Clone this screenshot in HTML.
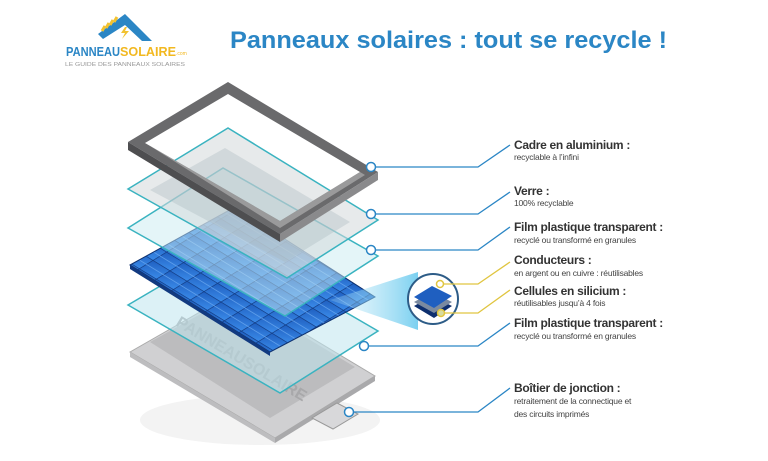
<!DOCTYPE html>
<html><head><meta charset="utf-8"><style>
html,body{margin:0;padding:0;background:#fff;width:768px;height:461px;overflow:hidden}
svg{display:block}
.t{font-family:"Liberation Sans",sans-serif;font-weight:bold;font-size:12px;fill:#333;letter-spacing:-0.3px}
.s{font-family:"Liberation Sans",sans-serif;font-size:8.5px;fill:#444;letter-spacing:-0.2px}
</style></head><body>
<svg width="768" height="461" viewBox="0 0 768 461" xmlns="http://www.w3.org/2000/svg">
<defs>
<linearGradient id="cell" x1="0" y1="0" x2="1" y2="1"><stop offset="0" stop-color="#1f5fc0"/><stop offset="1" stop-color="#3a8ae8"/></linearGradient>
<linearGradient id="beam" x1="0" y1="0" x2="1" y2="0"><stop offset="0" stop-color="#bfe8f7" stop-opacity="0.2"/><stop offset="1" stop-color="#6ccbef" stop-opacity="0.9"/></linearGradient>
<pattern id="grid" width="20" height="16" patternUnits="userSpaceOnUse" patternTransform="matrix(0.85,0.52,-0.85,0.52,0,0)">
<rect width="20" height="16" fill="url(#cell)"/><path d="M0 0H20M0 0V16" stroke="#123a80" stroke-width="1.5"/><path d="M0 8H20" stroke="#6aa8f0" stroke-width="0.7"/></pattern>
</defs>
<!-- logo -->
<path d="M98 34 L125 14 L152 41 L142 41 L125 25 L103 39Z" fill="#2b86c5"/>
<g stroke="#f2c230" stroke-width="3"><line x1="102" y1="31" x2="105" y2="26"/><line x1="106" y1="28" x2="109" y2="23"/><line x1="110" y1="25" x2="113" y2="20"/><line x1="114" y1="22" x2="117" y2="17"/></g>
<path d="M125 27 L121 33 L125 33 L122 39 L129 31 L125 31 L127 27Z" fill="#f2c230"/>
<text x="66" y="56" font-family="Liberation Sans,sans-serif" font-weight="bold" font-size="13" fill="#2b86c5" textLength="54" lengthAdjust="spacingAndGlyphs">PANNEAU</text>
<text x="120" y="56" font-family="Liberation Sans,sans-serif" font-weight="bold" font-size="13" fill="#f2b820" textLength="56" lengthAdjust="spacingAndGlyphs">SOLAIRE</text>
<text x="176" y="55" font-family="Liberation Sans,sans-serif" font-size="5" fill="#f2b820">.com</text>
<text x="65" y="66" font-family="Liberation Sans,sans-serif" font-size="5.5" fill="#999" textLength="120" lengthAdjust="spacingAndGlyphs">LE GUIDE DES PANNEAUX SOLAIRES</text>
<!-- title -->
<text x="230" y="48" font-family="Liberation Sans,sans-serif" font-weight="bold" font-size="24" fill="#2b86c5" textLength="437" lengthAdjust="spacingAndGlyphs">Panneaux solaires : tout se recycle !</text>

<!-- shadow -->
<ellipse cx="260" cy="420" rx="120" ry="25" fill="#f3f3f3"/>
<!-- back sheet -->
<polygon points="130,352 235,292 375,376 275,438" fill="#d0d0d2" stroke="#aaa"/>
<polygon points="130,352 275,438 275,443 130,357" fill="#bdbdbf"/>
<polygon points="275,438 375,376 375,381 275,443" fill="#a9a9ab"/>
<polygon points="150,342 235,295 355,367 270,418" fill="#bcbcbe"/>
<text x="175" y="325" transform="rotate(31 175 325)" font-family="Liberation Sans,sans-serif" font-weight="bold" font-size="16" fill="#a8a8aa">PANNEAUSOLAIRE</text>
<!-- junction box -->
<polygon points="312,418 337,403 358,414 333,429" fill="#d8d8da" stroke="#999"/>
<!-- glass 3 -->
<polygon points="128,305 230,245 378,331 280,393" fill="#bfe6ee" fill-opacity="0.55" stroke="#3ab3c0" stroke-width="1.5"/>
<!-- cells -->
<polygon points="130,265 235,207 375,297 270,352" fill="url(#grid)" stroke="#0f3270"/>
<polygon points="130,265 270,352 270,356 130,269" fill="#123a80"/>
<!-- beam -->
<polygon points="330,300 418,272 418,330" fill="url(#beam)"/>
<!-- glass 2 -->
<polygon points="128,228 223,168 378,256 285,316" fill="#c9ebf2" fill-opacity="0.5" stroke="#3ab3c0" stroke-width="1.5"/>
<!-- glass 1 -->
<polygon points="128,189 228,128 378,220 287,278" fill="#d4d8da" fill-opacity="0.55" stroke="#3ab3c0" stroke-width="1.5"/>
<polygon points="150,190 225,148 350,222 285,262" fill="#a8b8bd" fill-opacity="0.35"/>
<!-- frame -->
<path d="M128,142 L228,82 L378,172 L280,234Z M145,143 L228,94 L360,172 L280,221Z" fill="#6a6a6c" fill-rule="evenodd"/>
<polygon points="128,142 280,234 280,242 128,150" fill="#4e4e50"/>
<polygon points="280,234 378,172 378,180 280,242" fill="#8a8a8c"/>
<polygon points="145,143 280,221 360,172 365,175 280,228 150,146" fill="#bbb" opacity="0.6"/>

<!-- zoom circle -->
<circle cx="433" cy="299" r="25" fill="#fff" stroke="#2d5c87" stroke-width="2"/>
<polygon points="414,306 432,296 452,306 434,318" fill="#0e2f6e"/>
<polygon points="414,302 432,292 452,302 434,313" fill="#7a8aa0"/>
<polygon points="414,297 432,286 452,296 434,308" fill="#1f5fc0"/>

<!-- connectors -->
<g fill="none" stroke-width="1.3">
<path d="M371,167 H478 L510,145" stroke="#2b86c5"/>
<path d="M371,214 H478 L510,192" stroke="#2b86c5"/>
<path d="M371,250 H478 L510,227" stroke="#2b86c5"/>
<path d="M440,284 H478 L510,262" stroke="#e0c540"/>
<path d="M441,313 H478 L510,290" stroke="#e0c540"/>
<path d="M364,346 H478 L510,323" stroke="#2b86c5"/>
<path d="M349,412 H478 L510,388" stroke="#2b86c5"/>
</g>
<g fill="#fff" stroke-width="1.5">
<circle cx="371" cy="167" r="4.5" stroke="#2b86c5"/>
<circle cx="371" cy="214" r="4.5" stroke="#2b86c5"/>
<circle cx="371" cy="250" r="4.5" stroke="#2b86c5"/>
<circle cx="440" cy="284" r="3.5" stroke="#e0c540"/>
<circle cx="441" cy="313" r="3.5" stroke="#e0c540" fill="#d8dca0"/>
<circle cx="364" cy="346" r="4.5" stroke="#2b86c5"/>
<circle cx="349" cy="412" r="4.5" stroke="#2b86c5"/>
</g>

<!-- labels -->
<text class="t" x="514" y="149">Cadre en aluminium :</text>
<text class="s" x="514" y="160">recyclable à l’infini</text>
<text class="t" x="514" y="195">Verre :</text>
<text class="s" x="514" y="206">100% recyclable</text>
<text class="t" x="514" y="231">Film plastique transparent :</text>
<text class="s" x="514" y="243">recyclé ou transformé en granules</text>
<text class="t" x="514" y="264">Conducteurs :</text>
<text class="s" x="514" y="276">en argent ou en cuivre : réutilisables</text>
<text class="t" x="514" y="295">Cellules en silicium :</text>
<text class="s" x="514" y="306">réutilisables jusqu’à 4 fois</text>
<text class="t" x="514" y="327">Film plastique transparent :</text>
<text class="s" x="514" y="339">recyclé ou transformé en granules</text>
<text class="t" x="514" y="392">Boîtier de jonction :</text>
<text class="s" x="514" y="404">retraitement de la connectique et</text>
<text class="s" x="514" y="417">des circuits imprimés</text>
</svg>
</body></html>
